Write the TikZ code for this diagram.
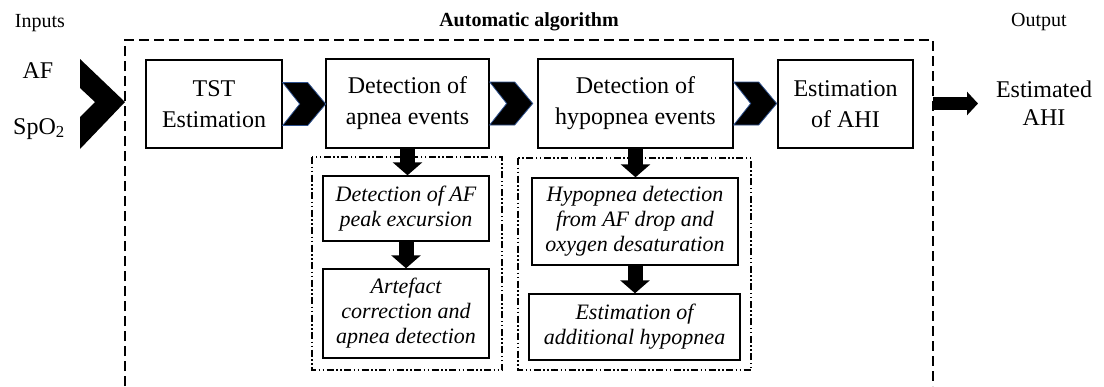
\documentclass[tikz,border=0pt]{standalone}
\usepackage{fontspec}
\setmainfont{Liberation Serif}
\usetikzlibrary{arrows.meta}
\definecolor{chevblue}{HTML}{2F528F}
\begin{document}
\begin{tikzpicture}[x=1pt,y=-1pt,
  box/.style={draw, line width=1.4pt, align=center, inner sep=0pt, font=\fontsize{24}{31}\selectfont},
  ibox/.style={draw, line width=1.4pt, align=center, inner sep=0pt, font=\fontsize{22}{25}\selectfont\itshape},
  lbl/.style={inner sep=0pt, font=\fontsize{20}{24}\selectfont},
  big/.style={inner sep=0pt, font=\fontsize{24}{28}\selectfont},
  frame/.style={line width=1.3pt, dash pattern=on 10pt off 5pt},
  group/.style={line width=1.2pt, dash pattern=on 7pt off 2.5pt on 1.5pt off 2.5pt on 1.5pt off 2.5pt},
  down/.style={line width=15pt, -{Triangle[length=13pt,width=29pt]}},
  outarrow/.style={line width=13pt, -{Triangle[length=11pt,width=23pt]}},
  chev/.style={fill=black, draw=chevblue, line width=0.8pt, line join=miter},
]
\useasboundingbox (0,0) rectangle (1104,386);

% dashed frame of the algorithm
\draw[frame] (125,386) -- (125,40) -- (933,40) -- (933,386);
\coordinate (frR) at (933,103.5);
\coordinate (outtip) at (978,103.5);

% main boxes
\node[box, minimum width=136pt, minimum height=88pt] (tst) at (214,104) {TST\\Estimation};
\node[box, minimum width=163pt, minimum height=89pt] (apnea) at (407.5,103.5) {Detection of\\apnea events};
\node[box, minimum width=195pt, minimum height=89pt] (hyp) at (635.5,103.5) {Detection of\\hypopnea events};
\node[box, minimum width=135pt, minimum height=88pt] (ahi) at (845.5,104) {Estimation\\of AHI};

% groups
\draw[group] (312,157) rectangle (502,370);
\draw[group] (518,158) rectangle (751,370);

% sub boxes
\node[ibox, minimum width=166pt, minimum height=65pt] (s1) at (406,208.5) {Detection of AF\\peak excursion};
\node[ibox, minimum width=166pt, minimum height=89pt] (s2) at (406,313.5) {Artefact\\correction and\\apnea detection};
\node[ibox, minimum width=206pt, minimum height=87pt] (s3) at (635,221.5) {Hypopnea detection\\from AF drop and\\oxygen desaturation};
\node[ibox, minimum width=211pt, minimum height=66pt] (s4) at (634.5,327) {Estimation of\\additional hypopnea};

% down arrows
\draw[down] (apnea.south) -- (apnea.south |- s1.north);
\draw[down] (s1.south) -- (s2.north);
\draw[down] (hyp.south) -- (hyp.south |- s3.north);
\draw[down] (s3.south) -- (s3.south |- s4.north);

% output arrow
\draw[outarrow] (frR) -- (outtip);

% chevrons between boxes
\foreach \n in {tst, apnea, hyp}
  \draw[chev] (\n.east) ++(0,-21.5) -- ++(25,0) -- ++(18,21.5) -- ++(-18,21.5) -- ++(-25,0) -- ++(17,-21.5) -- cycle;

% input chevron
\fill (80,59) -- (125,102) -- (80,149) -- (80,117) -- (95,102) -- (80,88) -- cycle;

% labels
\node[lbl] (inputs) at (40,23) {Inputs};
\node[lbl, font=\fontsize{20}{24}\selectfont\bfseries] (title) at (529,22) {Automatic algorithm};
\node[lbl] (output) at (1039,22) {Output};
\node[big, anchor=base] (af) at (38,78) {AF};
\node[big, anchor=base] (spo) at (39,134) {SpO\textsubscript{2}};
\node[big, align=center] (est) at (1044,103) {Estimated\\AHI};
\end{tikzpicture}
\end{document}
